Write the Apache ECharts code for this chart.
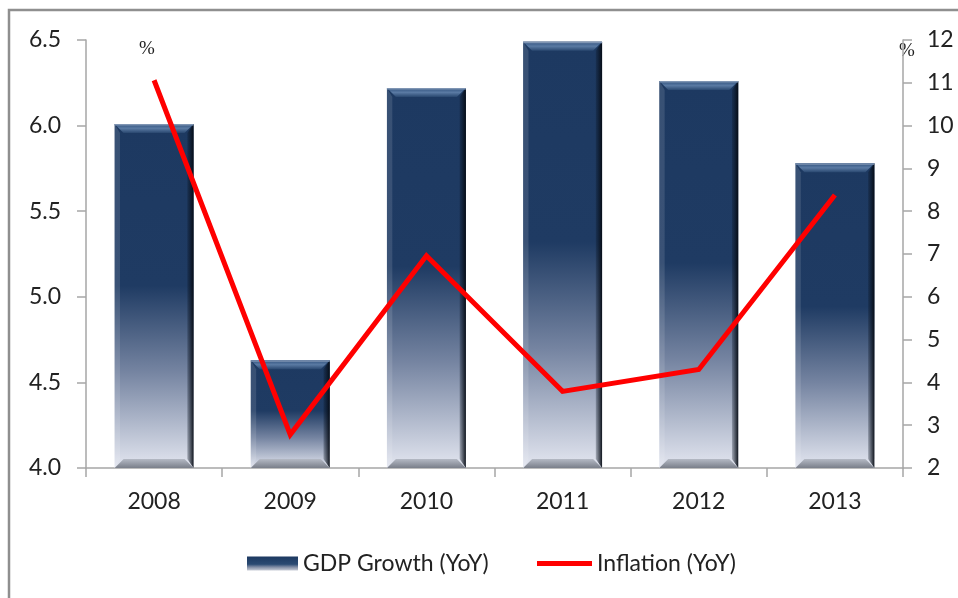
<!DOCTYPE html>
<html>
<head>
<meta charset="utf-8">
<script src="https://cdn.jsdelivr.net/npm/echarts@6/dist/echarts.min.js"></script>
<style>
  html, body { margin: 0; padding: 0; background: #fff; }
  #chart { width: 958px; height: 598px; }
</style>
</head>
<body>
<div id="chart"></div>
<script>
// Indonesia: GDP growth vs. inflation, year on year
const years = ['2008', '2009', '2010', '2011', '2012', '2013'];
const gdpGrowth = [6.01, 4.63, 6.22, 6.49, 6.26, 5.78];
const inflation = [11.06, 2.78, 6.96, 3.79, 4.30, 8.38];
const gdpTicks = { min: 4.0, max: 6.5, step: 0.5 };
const inflTicks = { min: 2, max: 12, step: 1 };

const FONT = 'Lato, "Open Sans", sans-serif';
const FS = 23;
const LG = echarts.graphic.LinearGradient;

const barFill = () => new LG(0, 0, 0, 1, [
  { offset: 0, color: '#1d3961' },
  { offset: 0.47, color: '#1f3b63' },
  { offset: 0.72, color: '#7584a1' },
  { offset: 1, color: '#e3e6f0' }
]);

// Bevelled bar drawn from the category / value scales
function renderBar(params, api) {
  const cat = api.value(0);
  const top = api.coord([cat, api.value(1)]);
  const base = api.coord([cat, gdpTicks.min]);
  const w = api.size([1, 0])[0] * 0.58;
  const l = top[0] - w / 2;
  const t = top[1];
  const h = base[1] - t;
  const b = Math.min(9, h / 4);
  const r = l + w, btm = t + h;
  return {
    type: 'group',
    children: [
      { type: 'rect', shape: { x: l, y: t, width: w, height: h }, style: { fill: barFill() } },
      { type: 'polygon', shape: { points: [[l, t], [r, t], [r - b, t + b], [l + b, t + b]] },
        style: { fill: new LG(0, 0, 0, 1, [{ offset: 0, color: '#2f507c' }, { offset: 0.5, color: '#5a7aa3' }, { offset: 1, color: '#2a4870' }]) } },
      { type: 'polygon', shape: { points: [[l, btm], [r, btm], [r - b, btm - b], [l + b, btm - b]] },
        style: { fill: new LG(0, 0, 0, 1, [{ offset: 0, color: '#b4b9c4' }, { offset: 1, color: '#7a7f8a' }]) } },
      { type: 'polygon', shape: { points: [[r, t], [r, btm], [r - b * 0.7, btm - b], [r - b * 0.7, t + b]] },
        style: { fill: new LG(0, 0, 1, 0, [{ offset: 0, color: 'rgba(10,20,34,0.25)' }, { offset: 1, color: 'rgba(5,10,18,0.95)' }]) } },
      { type: 'polygon', shape: { points: [[l, t], [l, btm], [l + b * 0.6, btm - b], [l + b * 0.6, t + b]] },
        style: { fill: 'rgba(255,255,255,0.12)' } },
      { type: 'rect', shape: { x: l, y: t, width: w, height: 1.5 }, style: { fill: '#7f95b3' } }
    ]
  };
}

const chart = echarts.init(document.getElementById('chart'), null, { renderer: 'canvas' });

const axisGrey = '#a6a6a6';
const legendText = { fontFamily: FONT, fontSize: FS, color: '#222', padding: [0, 0, 0, 0] };

chart.setOption({
  animation: false,
  backgroundColor: '#ffffff',
  grid: { left: 86, right: 55, top: 40, bottom: 130, containLabel: false },
  graphic: [
    { type: 'rect', shape: { x: 9, y: 10, width: 1000, height: 700 },
      style: { fill: 'none', stroke: '#8f8f8f', lineWidth: 2.5 }, z: -1 },
    { type: 'text', left: 139, top: 40, style: { text: '%', font: '19px "Liberation Serif", serif', fill: '#222' } },
    { type: 'text', left: 899, top: 42, style: { text: '%', font: '19px "Liberation Serif", serif', fill: '#222' } }
  ],
  legend: [
    {
      left: 242, top: 547,
      itemWidth: 51, itemHeight: 14,
      textStyle: legendText,
      data: [{ name: 'GDP Growth (YoY)', icon: 'rect',
        itemStyle: { color: new LG(0, 0, 0, 1, [{ offset: 0, color: '#1d3961' }, { offset: 0.55, color: '#2a4a72' }, { offset: 0.75, color: '#7d8aa3' }, { offset: 1, color: '#c8ccd6' }]) } }]
    },
    {
      left: 532, top: 547,
      itemWidth: 55, itemHeight: 5,
      textStyle: legendText,
      data: [{ name: 'Inflation (YoY)', icon: 'rect', itemStyle: { color: '#ff0000' } }]
    }
  ],
  xAxis: {
    type: 'category',
    data: years,
    axisLine: { lineStyle: { color: axisGrey, width: 1.5 } },
    axisTick: { show: true, length: 9, lineStyle: { color: axisGrey, width: 1.5 } },
    axisLabel: { fontFamily: FONT, fontSize: FS, color: '#222', margin: 22 }
  },
  yAxis: [
    {
      type: 'value', min: gdpTicks.min, max: gdpTicks.max, interval: gdpTicks.step,
      axisLine: { show: true, lineStyle: { color: axisGrey, width: 1.5 } },
      axisTick: { show: true, length: 9, lineStyle: { color: axisGrey, width: 1.5 } },
      splitLine: { show: false },
      axisLabel: { fontFamily: FONT, fontSize: FS, color: '#222', margin: 25,
        formatter: v => v.toFixed(1) }
    },
    {
      type: 'value', min: inflTicks.min, max: inflTicks.max, interval: inflTicks.step,
      position: 'right',
      axisLine: { show: true, lineStyle: { color: axisGrey, width: 1.5 } },
      axisTick: { show: true, length: 9, lineStyle: { color: axisGrey, width: 1.5 } },
      splitLine: { show: false },
      axisLabel: { fontFamily: FONT, fontSize: FS, color: '#222', margin: 24 }
    }
  ],
  series: [
    {
      name: 'GDP Growth (YoY)',
      type: 'custom',
      renderItem: renderBar,
      encode: { x: 0, y: 1 },
      itemStyle: { color: '#1f3b63' },
      data: years.map((y, i) => [i, gdpGrowth[i]]),
      z: 2
    },
    {
      name: 'Inflation (YoY)',
      type: 'line',
      yAxisIndex: 1,
      data: inflation,
      symbol: 'none',
      lineStyle: { color: '#ff0000', width: 5, join: 'miter' },
      itemStyle: { color: '#ff0000' },
      z: 5
    }
  ]
});
</script>
</body>
</html>
